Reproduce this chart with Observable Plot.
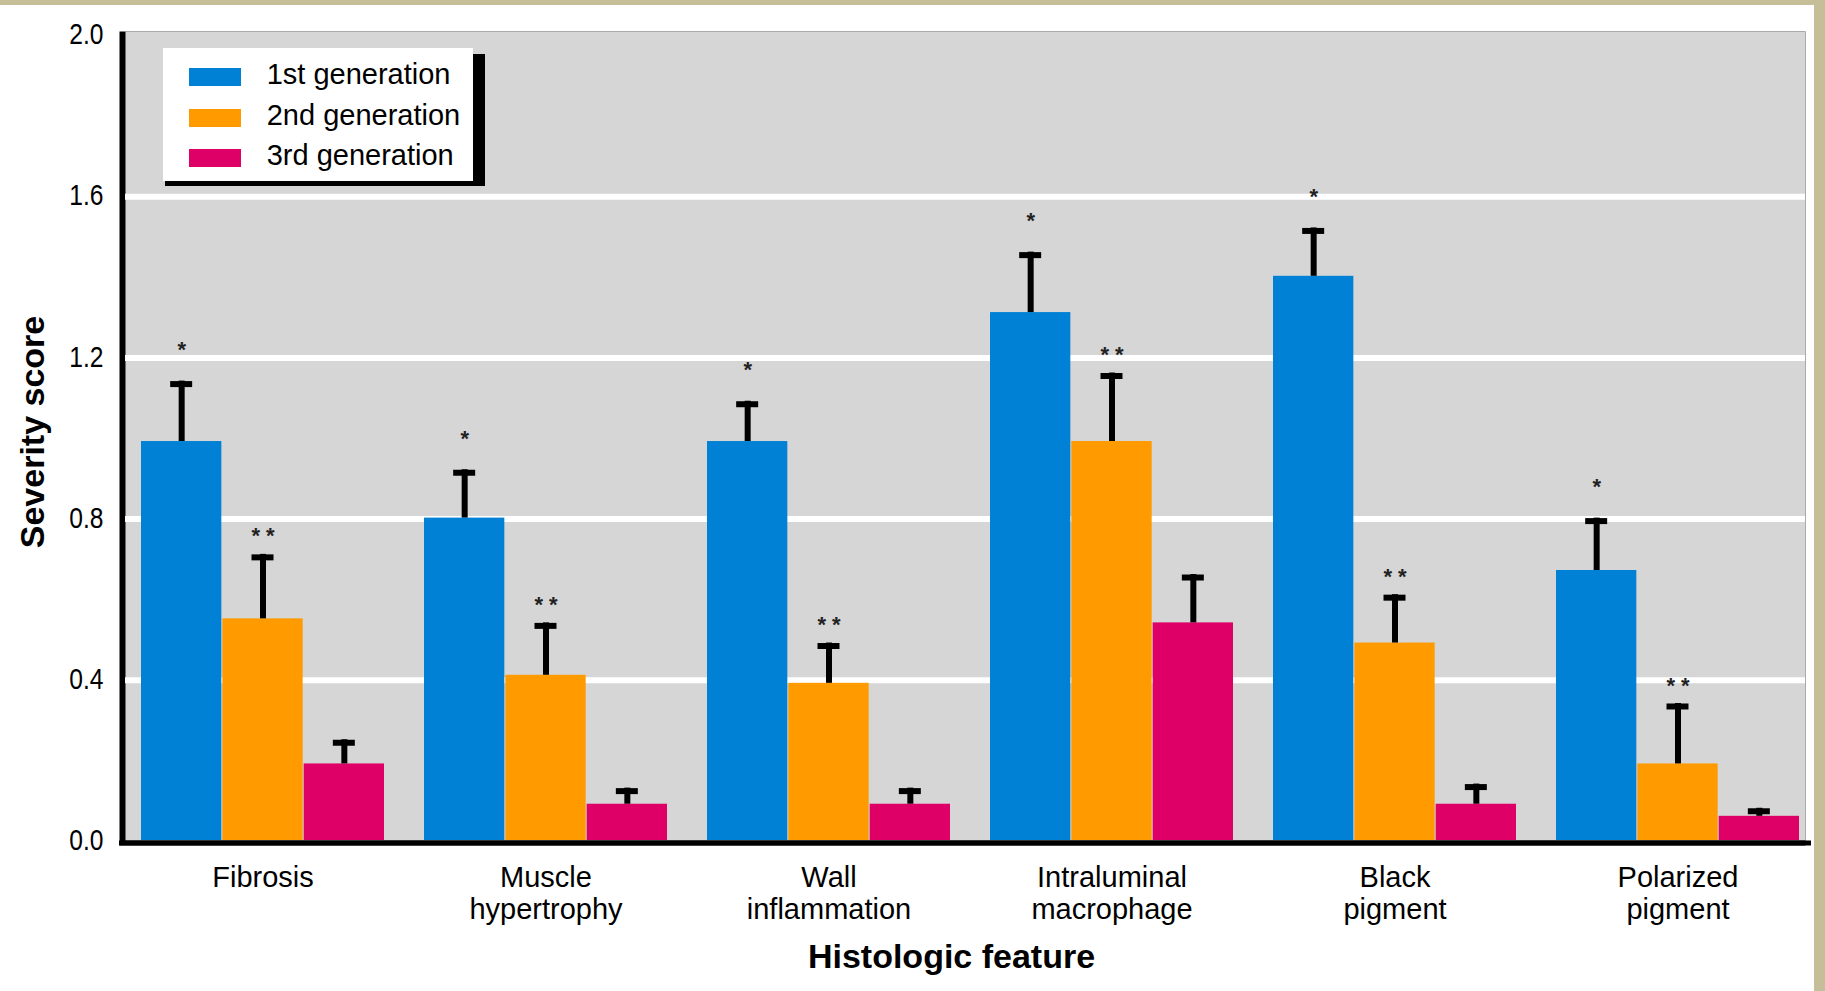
<!DOCTYPE html>
<html>
<head>
<meta charset="utf-8">
<script src="https://cdn.jsdelivr.net/npm/d3@7"></script>
<script src="https://cdn.jsdelivr.net/npm/@observablehq/plot@0.6"></script>
<style>
  html, body { margin: 0; padding: 0; background: #fff; }
  #wrap { position: relative; width: 1814px; height: 986px; border-top: 5px solid #c6bd99; border-right: 11px solid #c6bd99; background: #fff; overflow: hidden; }
  #legend-shadow { position: absolute; left: 165px; top: 49px; width: 320px; height: 132px; background: #000; }
  #legend { position: absolute; left: 163px; top: 43px; width: 310px; height: 133px; background: #fff;
            font-family: "Liberation Sans", Arial, sans-serif; font-size: 29px; color: #000; }
  #legend .row { position: absolute; left: 26px; height: 18px; width: 280px; }
  #legend .sw { position: absolute; left: 0; top: 0; width: 52px; height: 18px; }
  #legend .lab { position: absolute; left: 77.7px; top: -3px; line-height: 18px; white-space: nowrap; }
</style>
</head>
<body>
<div id="wrap"></div>
<script>
// ---------------- data ----------------
const categories = ["Fibrosis", "Muscle\nhypertrophy", "Wall\ninflammation", "Intraluminal\nmacrophage", "Black\npigment", "Polarized\npigment"];
const generations = ["1st generation", "2nd generation", "3rd generation"];
const gen1Mean = [0.99, 0.80, 0.99, 1.31, 1.40, 0.67];
const gen1SE   = [0.15, 0.12, 0.10, 0.15, 0.12, 0.13];
const gen2Mean = [0.55, 0.41, 0.39, 0.99, 0.49, 0.19];
const gen2SE   = [0.16, 0.13, 0.10, 0.17, 0.12, 0.15];
const gen3Mean = [0.19, 0.09, 0.09, 0.54, 0.09, 0.06];
const gen3SE   = [0.06, 0.04, 0.04, 0.12, 0.05, 0.02];
const significance = ["*", "**", ""];          // marker per generation
const genColors = ["#0081d5", "#ff9b00", "#de0067"];
const yTicks = [0, 0.4, 0.8, 1.2, 1.6, 2.0];
const gridValues = [0.4, 0.8, 1.2, 1.6];
const yLabel = "Severity score";
const xLabel = "Histologic feature";

// ---------------- table ----------------
const means = [gen1Mean, gen2Mean, gen3Mean];
const ses = [gen1SE, gen2SE, gen3SE];
const rows = [];
categories.forEach((c, i) => generations.forEach((g, j) => {
  rows.push({category: c, generation: g, j, mean: means[j][i], hi: means[j][i] + ses[j][i], star: significance[j]});
}));

// ---------------- layout ----------------
const W = 1814, H = 986;
const mL = 125, mR = 9, mT = 26, mB = 151;
const inL = 13.9, inR = 4.1, padIn = 0.1396;
const xs = Plot.scale({x: {type: "band", domain: categories, range: [mL + inL, W - mR - inR], paddingInner: padIn, paddingOuter: 0}});
const bw = xs.bandwidth;
const sub = bw / 3;
const capW = 23;

const marks = [
  Plot.frame({fill: "#000", stroke: null, insetLeft: -6, insetBottom: -5}),
  Plot.frame({fill: "#d6d6d6", stroke: null}),
  Plot.ruleY(gridValues, {stroke: "#fff", strokeWidth: 6, dy: 1})
];
generations.forEach((g, j) => {
  const d = rows.filter(r => r.j === j);
  marks.push(Plot.barY(d, {x: "category", y: "mean", fill: genColors[j], insetLeft: j * sub, insetRight: (2 - j) * sub}));
});
generations.forEach((g, j) => {
  const d = rows.filter(r => r.j === j);
  marks.push(Plot.ruleX(d, {x: "category", y1: "mean", y2: "hi", stroke: "#000", strokeWidth: 6, dx: (j - 1) * sub}));
  marks.push(Plot.tickY(d, {x: "category", y: "hi", stroke: "#000", strokeWidth: 6, dy: 3,
    insetLeft: (j + 0.5) * sub - capW / 2, insetRight: bw - (j + 0.5) * sub - capW / 2}));
  if (significance[j]) {
    marks.push(Plot.text(d, {x: "category", y: "hi", text: d => d.star === "**" ? "* *" : d.star, dx: (j - 1) * sub,
      dy: j === 0 ? -31 : -18, fontSize: 22, fontWeight: "bold", fill: "#222", fontFamily: "Liberation Sans, Arial, sans-serif"}));
  }
});
marks.push(
  Plot.ruleY([0], {stroke: "#000", strokeWidth: 5, dy: 2.5, insetLeft: -6, insetRight: -6}),
  Plot.axisY(yTicks, {tickSize: 0, tickPadding: 22, tickFormat: d3.format(".1f"), fontSize: 30, label: null}),
  Plot.axisX({tickSize: 0, tickPadding: 24, fontSize: 29, lineHeight: 1.09, label: null}),
  Plot.text([yLabel], {frameAnchor: "left", textAnchor: "middle", rotate: -90, dx: -92, dy: -4, fontSize: 34, fontWeight: "bold"}),
  Plot.text([xLabel], {frameAnchor: "bottom", textAnchor: "middle", lineAnchor: "top", dx: -14, dy: 103, fontSize: 34, fontWeight: "bold"})
);

const chart = Plot.plot({
  width: W, height: H,
  marginLeft: mL, marginRight: mR, marginTop: mT, marginBottom: mB,
  x: {type: "band", domain: categories, paddingInner: padIn, paddingOuter: 0, insetLeft: inL, insetRight: inR},
  y: {domain: [0, 2], insetTop: 3},
  style: {fontFamily: "'Liberation Sans', Arial, sans-serif", fontSize: "29px", color: "#000", background: "#fff", overflow: "visible"},
  marks
});
// condense the y tick labels horizontally (the source uses a narrow face)
d3.select(chart).selectAll('g[aria-label="y-axis tick label"] text').each(function () {
  const t = this.getAttribute("transform") || "";
  this.setAttribute("transform", t + " scale(0.82,1)");
});
const wrap = document.getElementById("wrap");
wrap.appendChild(chart);

// ---------------- legend (overlay) ----------------
const shadow = document.createElement("div");
shadow.id = "legend-shadow";
wrap.appendChild(shadow);
const legend = document.createElement("div");
legend.id = "legend";
generations.forEach((g, j) => {
  const row = document.createElement("div");
  row.className = "row";
  row.style.top = (20 + j * 40.5) + "px";
  const sw = document.createElement("div");
  sw.className = "sw";
  sw.style.background = genColors[j];
  const lab = document.createElement("span");
  lab.className = "lab";
  lab.textContent = g;
  row.appendChild(sw);
  row.appendChild(lab);
  legend.appendChild(row);
});
wrap.appendChild(legend);
</script>
</body>
</html>
